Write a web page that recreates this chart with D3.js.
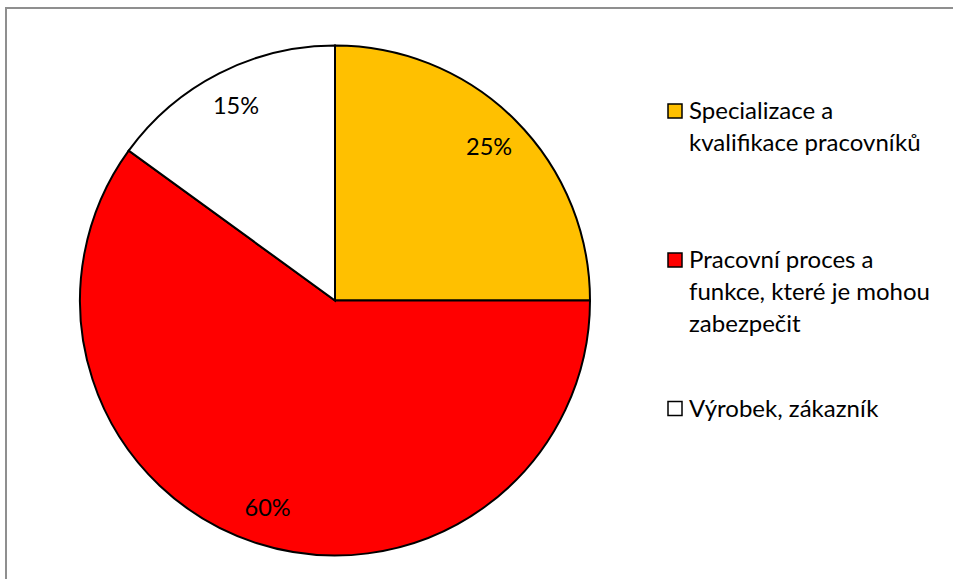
<!DOCTYPE html>
<html>
<head>
<meta charset="utf-8">
<script src="https://cdn.jsdelivr.net/npm/d3@7"></script>
<style>
  html, body { margin: 0; padding: 0; background: #fff; }
  svg { display: block; }
  text { font-family: Lato, "Open Sans", sans-serif; fill: #000; }
</style>
</head>
<body>
<svg id="chart" width="953" height="579"></svg>
<script>
// Categories, shares (percent) and slice colours
const categories = [
  ["Specializace a", "kvalifikace pracovníků"],
  ["Pracovní proces a", "funkce, které je mohou", "zabezpečit"],
  ["Výrobek, zákazník"]
];
const values = [25, 60, 15];
const colors = ["#FFC000", "#FF0000", "#FFFFFF"];

const W = 953, H = 579;
const svg = d3.select("#chart");

// chart area frame (top and left edges visible)
svg.append("path")
  .attr("d", `M6,${H + 2} L6,8 L${W + 2},8`)
  .attr("fill", "none")
  .attr("stroke", "#8f8f8f")
  .attr("stroke-width", 2);

const cx = 335, cy = 300.5, R = 255;
const g = svg.append("g").attr("transform", `translate(${cx},${cy})`);

const pie = d3.pie().sort(null).value(d => d)(values);
const arc = d3.arc().innerRadius(0).outerRadius(R);
const labelArc = d3.arc().innerRadius(R * 0.855).outerRadius(R * 0.855);

g.selectAll("path.slice")
  .data(pie)
  .join("path")
  .attr("class", "slice")
  .attr("d", arc)
  .attr("fill", (d, i) => colors[i])
  .attr("stroke", "#000")
  .attr("stroke-width", 2)
  .attr("stroke-linejoin", "miter");

g.selectAll("text.pct")
  .data(pie)
  .join("text")
  .attr("class", "pct")
  .attr("x", d => labelArc.centroid(d)[0])
  .attr("y", d => labelArc.centroid(d)[1])
  .attr("dy", "0.35em")
  .attr("text-anchor", "middle")
  .attr("font-size", 23.5)
  .text(d => d.data + "%");

// legend
const legendX = 668, lineH = 32;
const legendTop = [111, 260, 408.5];
const legend = svg.append("g");
categories.forEach((lines, i) => {
  const item = legend.append("g").attr("transform", `translate(${legendX},${legendTop[i]})`);
  item.append("rect")
    .attr("x", 0).attr("y", -7)
    .attr("width", 14).attr("height", 14)
    .attr("fill", colors[i])
    .attr("stroke", "#000")
    .attr("stroke-width", 1.5);
  const t = item.append("text")
    .attr("x", 21).attr("y", 8)
    .attr("font-size", 24);
  lines.forEach((ln, j) => {
    t.append("tspan").attr("x", 21).attr("dy", j === 0 ? 0 : lineH).text(ln);
  });
});
</script>
</body>
</html>
